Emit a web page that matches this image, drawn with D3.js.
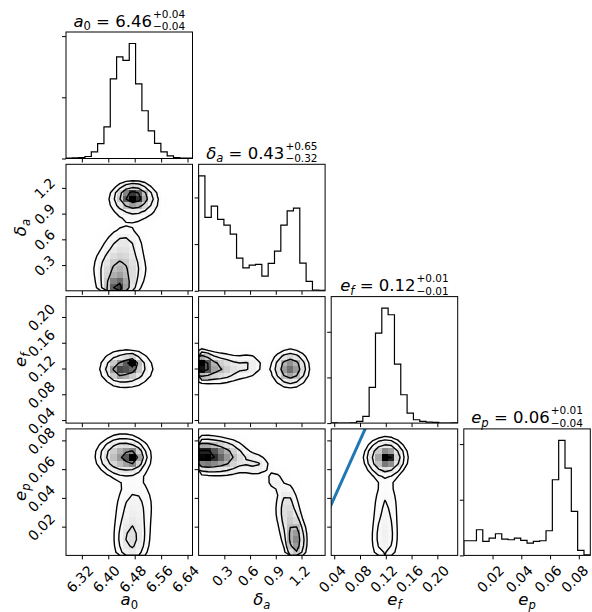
<!DOCTYPE html>
<html>
<head>
<meta charset="utf-8">
<script src="https://cdn.jsdelivr.net/npm/d3@7/dist/d3.min.js"></script>
<style>
html,body{margin:0;padding:0;background:#fff;}
svg{display:block;font-family:"DejaVu Sans",sans-serif;}
</style>
</head>
<body>
<svg id="chart" width="592" height="612"></svg>
<script>
// ---------------- data ----------------
const paramSymbols = ["a", "δ", "e", "e"];
const paramSubscripts = ["0", "a", "f", "p"];
const subscriptItalic = [false, true, true, true];
const medians = ["6.46", "0.43", "0.12", "0.06"];
const errPlus = ["0.04", "0.65", "0.01", "0.01"];
const errMinus = ["0.04", "0.32", "0.01", "0.04"];
const rangeMin = [6.272, 0.0, 0.0353, 0.0];
const rangeMax = [6.655, 1.475, 0.2316, 0.088];

const ticksA0 = [6.32, 6.40, 6.48, 6.56, 6.64];
const ticksDa = [0.3, 0.6, 0.9, 1.2];
const ticksEf = [0.04, 0.08, 0.12, 0.16, 0.20];
const ticksEp = [0.02, 0.04, 0.06, 0.08];
const tickLabelsA0 = ["6.32", "6.40", "6.48", "6.56", "6.64"];
const tickLabelsDa = ["0.3", "0.6", "0.9", "1.2"];
const tickLabelsEf = ["0.04", "0.08", "0.12", "0.16", "0.20"];
const tickLabelsEp = ["0.02", "0.04", "0.06", "0.08"];

// 1D histograms (20 bins each over the axis range)
const histA0 = [1, 2, 3, 6, 20, 44, 94, 237, 302, 292, 342, 222, 142, 82, 45, 20, 8, 3, 1, 1];
const histDa = [345, 220, 254, 214, 197, 170, 98, 69, 77, 79, 44, 82, 119, 197, 240, 248, 83, 28, 2, 1];
const histEf = [1, 0, 0, 1, 5, 20, 107, 270, 345, 325, 177, 85, 30, 10, 5, 3, 2, 0, 0, 1];
const histEp = [44, 44, 77, 42, 52, 65, 49, 47, 52, 45, 37, 42, 44, 74, 227, 345, 262, 132, 15, 2];
const histTickStep = [182, 140, 137, 167];

// 2D density components: [x, y, sigmaX, sigmaY, weight]
const blobsA0Da = [
  [6.476, 1.10, 0.030, 0.08, 0.20],
  [6.48, 1.00, 0.050, 0.14, 0.16],
  [6.428, 0.02, 0.025, 0.09, 0.14],
  [6.435, 0.25, 0.045, 0.18, 0.40],
  [6.45, 0.58, 0.035, 0.11, 0.07]
];
const blobsA0Ef = [
  [6.455, 0.120, 0.042, 0.015, 0.70],
  [6.472, 0.128, 0.012, 0.006, 0.08],
  [6.43, 0.118, 0.018, 0.009, 0.10]
];
const blobsDaEf = [
  [0.02, 0.125, 0.09, 0.012, 0.25],
  [0.25, 0.120, 0.17, 0.014, 0.30],
  [0.60, 0.125, 0.10, 0.013, 0.08],
  [1.07, 0.120, 0.12, 0.016, 0.38]
];
const blobsA0Ep = [
  [6.445, 0.069, 0.042, 0.0075, 0.45],
  [6.475, 0.068, 0.014, 0.0035, 0.06],
  [6.48, 0.035, 0.038, 0.0130, 0.22],
  [6.47, 0.010, 0.030, 0.0110, 0.25]
];
const blobsDaEp = [
  [0.03, 0.0700, 0.14, 0.0065, 0.30],
  [0.30, 0.0685, 0.17, 0.0075, 0.28],
  [0.68, 0.0630, 0.11, 0.0050, 0.06],
  [0.88, 0.0520, 0.05, 0.0040, 0.02],
  [1.03, 0.0320, 0.09, 0.0130, 0.17],
  [1.13, 0.0100, 0.07, 0.0100, 0.18]
];
const blobsEfEp = [
  [0.120, 0.068, 0.016, 0.0068, 0.55],
  [0.124, 0.068, 0.006, 0.0030, 0.06],
  [0.120, 0.035, 0.013, 0.0140, 0.20],
  [0.118, 0.010, 0.013, 0.0110, 0.20]
];
const identityLine = [[0, 0], [0.3, 0.3]];
const contourLevels = [0.118, 0.393, 0.675, 0.865];

// ---------------- layout ----------------
const W = 592, H = 612;
const gridLeft = 66, gridTop = 32, size = 126.5, colStep = 132.6, rowStep = 132.3;
const nBins = 20;
const tickFont = 14, labelFont = 16.5, titleFont = 16.5, scriptFont = 10.5;
const colX = i => gridLeft + i * colStep;
const rowY = j => gridTop + j * rowStep;

const allTicks = [ticksA0, ticksDa, ticksEf, ticksEp];
const allTickLabels = [tickLabelsA0, tickLabelsDa, tickLabelsEf, tickLabelsEp];
const hists = [histA0, histDa, histEf, histEp];
const pairBlobs = {"0-1": blobsA0Da, "0-2": blobsA0Ef, "1-2": blobsDaEf, "0-3": blobsA0Ep, "1-3": blobsDaEp, "2-3": blobsEfEp};

const svg = d3.select("#chart");
svg.append("rect").attr("width", W).attr("height", H).attr("fill", "#fff");
const defs = svg.append("defs");

const xScales = d3.range(4).map(i => d3.scaleLinear().domain([rangeMin[i], rangeMax[i]]).range([colX(i), colX(i) + size]));
const yScales = d3.range(4).map(j => d3.scaleLinear().domain([rangeMin[j], rangeMax[j]]).range([rowY(j) + size, rowY(j)]));

function density(blobs, x, y) {
  let s = 0;
  for (const [mx, my, sx, sy, w] of blobs) {
    const u = (x - mx) / sx, v = (y - my) / sy;
    s += w / (sx * sy) * Math.exp(-0.5 * (u * u + v * v));
  }
  return s;
}

function styleXLabels(axisG, scale) {
  axisG.selectAll(".tick text").each(function (d) {
    const t = d3.select(this);
    t.attr("x", null).attr("y", null).attr("dy", "0.36em").attr("text-anchor", "middle")
      .attr("font-size", tickFont).attr("fill", "#000");
    const L = this.getComputedTextLength();
    const half = (L + 0.73 * tickFont) / (2 * Math.SQRT2);
    const boxHalf = (L + 1.17 * tickFont) / (2 * Math.SQRT2);
    let off = -2.5;
    const over = scale(d) + off + boxHalf - (W - 1);
    if (over > 0) off -= over;
    t.attr("transform", `translate(${off},${9 + half}) rotate(-45)`);
  });
}
function styleYLabels(axisG) {
  axisG.selectAll(".tick text").each(function () {
    const t = d3.select(this);
    t.attr("x", null).attr("y", null).attr("dy", "0.36em").attr("text-anchor", "middle")
      .attr("font-size", tickFont).attr("fill", "#000");
    const L = this.getComputedTextLength();
    const half = (L + 0.73 * tickFont) / (2 * Math.SQRT2);
    t.attr("transform", `translate(${-(10 + half)},0) rotate(-45)`);
  });
}
function cleanAxis(g) {
  g.select(".domain").remove();
  g.selectAll(".tick line").attr("stroke", "#000").attr("stroke-width", 1);
  g.attr("font-family", null);
}

function mathText(sel, k, fs) {
  sel.append("tspan").attr("font-style", "italic").text(paramSymbols[k]);
  sel.append("tspan").attr("font-size", fs * 0.7).attr("dy", 0.22 * fs)
    .attr("font-style", subscriptItalic[k] ? "italic" : "normal").text(paramSubscripts[k]);
}

// ---------------- panels ----------------
for (let j = 0; j < 4; j++) {
  for (let i = 0; i <= j; i++) {
    const x0 = colX(i), y0 = rowY(j);
    const g = svg.append("g");
    const clipId = `clip-${i}-${j}`;
    defs.append("clipPath").attr("id", clipId).append("rect")
      .attr("x", x0).attr("y", y0).attr("width", size).attr("height", size);
    const xs = xScales[i];
    const inner = g.append("g").attr("clip-path", `url(#${clipId})`);

    if (i === j) {
      const counts = hists[i];
      const hmax = d3.max(counts);
      const ys = d3.scaleLinear().domain([0, 1.1 * hmax]).range([y0 + size, y0]);
      const edges = d3.range(nBins + 1).map(k => rangeMin[i] + k * (rangeMax[i] - rangeMin[i]) / nBins);
      const pts = [[edges[0], 0]];
      counts.forEach((c, k) => { pts.push([edges[k], c]); pts.push([edges[k + 1], c]); });
      pts.push([edges[nBins], 0]);
      inner.append("path").attr("d", d3.line().x(d => xs(d[0])).y(d => ys(d[1]))(pts))
        .attr("fill", "none").attr("stroke", "#000").attr("stroke-width", 1.2);
      const yt = d3.range(0, 1.1 * hmax, histTickStep[i]);
      const ya = g.append("g").attr("transform", `translate(${x0},0)`)
        .call(d3.axisLeft(ys).tickValues(yt).tickSize(4).tickFormat(""));
      cleanAxis(ya);
      // title with stacked super/subscripts
      const baseline = y0 - 5.5;
      const t = g.append("text").attr("x", 0).attr("y", baseline).attr("font-size", titleFont);
      mathText(t, i, titleFont);
      t.append("tspan").attr("dy", -0.22 * titleFont).text(" = " + medians[i]);
      const w1 = t.node().getComputedTextLength();
      const supT = t.append("tspan").attr("font-size", scriptFont).attr("dx", 1).attr("dy", -9).text("+" + errPlus[i]);
      const wSup = supT.node().getComputedTextLength();
      const subT = t.append("tspan").attr("font-size", scriptFont).attr("dy", 12.6).text("\u2212" + errMinus[i]);
      const wSub = subT.node().getComputedTextLength();
      const start = x0 + size / 2 - (w1 + 1 + Math.max(wSup, wSub)) / 2;
      t.attr("x", start);
      subT.attr("x", start + w1 + 1);
    } else {
      const ys = yScales[j];
      const blobs = pairBlobs[`${i}-${j}`];
      const dx = (rangeMax[i] - rangeMin[i]) / nBins, dy = (rangeMax[j] - rangeMin[j]) / nBins;
      const values = new Array(nBins * nBins).fill(0);
      const ss = 4;
      for (let r = 0; r < nBins; r++) {
        for (let c = 0; c < nBins; c++) {
          let s = 0;
          for (let a = 0; a < ss; a++) for (let b = 0; b < ss; b++) {
            const xx = rangeMin[i] + (c + (a + 0.5) / ss) * dx;
            const yy = rangeMax[j] - (r + (b + 0.5) / ss) * dy;
            s += density(blobs, xx, yy);
          }
          values[r * nBins + c] = s;
        }
      }
      const vmax = d3.max(values);
      for (let r = 0; r < nBins; r++) for (let c = 0; c < nBins; c++) {
        const sN = values[r * nBins + c] / vmax;
        if (sN < 0.01) continue;
        const gray = Math.round(255 * (1 - sN * sN));
        const xa = xs(rangeMin[i] + c * dx), xb = xs(rangeMin[i] + (c + 1) * dx);
        const ya = ys(rangeMax[j] - r * dy), yb = ys(rangeMax[j] - (r + 1) * dy);
        inner.append("rect").attr("x", xa).attr("y", ya).attr("width", xb - xa + 0.4).attr("height", yb - ya + 0.4)
          .attr("fill", `rgb(${gray},${gray},${gray})`).attr("shape-rendering", "crispEdges");
      }
      const flat = values.slice().sort((a, b) => b - a);
      const tot = d3.sum(flat);
      let cum = 0;
      const cs = flat.map(v => (cum += v) / tot);
      const V = contourLevels.map(lv => {
        let val = flat[0];
        for (let k = 0; k < flat.length; k++) { if (cs[k] <= lv) val = flat[k]; else break; }
        return val;
      }).sort((a, b) => a - b);
      const cont = d3.contours().size([nBins, nBins]).thresholds(V)(values);
      const proj = d3.geoTransform({
        point: function (gx, gy) { this.stream.point(xs(rangeMin[i] + gx * dx), ys(rangeMax[j] - gy * dy)); }
      });
      const gp = d3.geoPath(proj);
      inner.selectAll(null).data(cont).enter().append("path").attr("d", gp)
        .attr("fill", "none").attr("stroke", "#000").attr("stroke-width", 1.4).attr("stroke-linejoin", "round");
      if (i === 2 && j === 3) {
        inner.append("path").attr("d", d3.line().x(d => xs(d[0])).y(d => ys(d[1]))(identityLine))
          .attr("fill", "none").attr("stroke", "#1f77b4").attr("stroke-width", 3);
      }
      const yAxis = d3.axisLeft(ys).tickValues(allTicks[j]).tickSize(4);
      if (i === 0) yAxis.tickFormat((d, k) => allTickLabels[j][k]); else yAxis.tickFormat("");
      const ya = g.append("g").attr("transform", `translate(${x0},0)`).call(yAxis);
      cleanAxis(ya);
      if (i === 0) styleYLabels(ya);
    }
    const xAxis = d3.axisBottom(xs).tickValues(allTicks[i]).tickSize(4);
    if (j === 3) xAxis.tickFormat((d, k) => allTickLabels[i][k]); else xAxis.tickFormat("");
    const xa = g.append("g").attr("transform", `translate(0,${y0 + size})`).call(xAxis);
    cleanAxis(xa);
    if (j === 3) styleXLabels(xa, xs);
    g.append("rect").attr("x", x0).attr("y", y0).attr("width", size).attr("height", size)
      .attr("fill", "none").attr("stroke", "#000").attr("stroke-width", 1);
  }
}

for (let i = 0; i < 4; i++) {
  const t = svg.append("text").attr("x", colX(i) + size / 2).attr("y", 605)
    .attr("text-anchor", "middle").attr("font-size", labelFont);
  mathText(t, i, labelFont);
}
for (let j = 1; j < 4; j++) {
  const t = svg.append("text").attr("transform", `translate(26,${rowY(j) + size / 2}) rotate(-90)`)
    .attr("text-anchor", "middle").attr("font-size", labelFont);
  mathText(t, j, labelFont);
}
</script>
</body>
</html>
